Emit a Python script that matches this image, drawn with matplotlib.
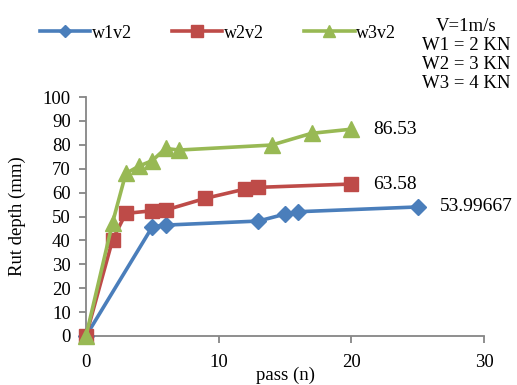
import matplotlib
matplotlib.use("Agg")
import matplotlib.pyplot as plt

plt.rcParams['font.family'] = ['Liberation Serif', 'DejaVu Serif']

x1 = [0, 5, 6, 13, 15, 16, 25]
y1 = [0, 45.7, 46.4, 48.1, 51.0, 52.0, 53.99667]
x2 = [0, 2, 3, 5, 6, 9, 12, 13, 20]
y2 = [0, 40.2, 51.3, 52.4, 52.7, 57.6, 61.5, 62.2, 63.58]
x3 = [0, 2, 3, 4, 5, 6, 7, 14, 17, 20]
y3 = [0, 47.4, 68.0, 71.1, 73.4, 78.5, 77.8, 79.9, 84.8, 86.53]
labels = ['w1v2', 'w2v2', 'w3v2']
end_labels = ['53.99667', '63.58', '86.53']
yticks = list(range(0, 101, 10))
xticks = [0, 10, 20, 30]

colors = ['#4a7ebb', '#be4b48', '#98b954']
spine_c = '#868686'

fig = plt.figure(figsize=(5.17, 3.85), dpi=100)
ax = fig.add_axes([86/517, 1-336/385, (484-86)/517, (336-97)/385])

l1, = ax.plot(x1, y1, color=colors[0], lw=2.6, marker='D', ms=8, clip_on=False, zorder=3)
l2, = ax.plot(x2, y2, color=colors[1], lw=2.6, marker='s', ms=10, clip_on=False, zorder=3)
l3, = ax.plot(x3, y3, color=colors[2], lw=2.6, marker='^', ms=11, clip_on=False, zorder=4)

for xs, ys, lab in [(x1, y1, end_labels[0]), (x2, y2, end_labels[1]), (x3, y3, end_labels[2])]:
    ax.annotate(lab, (xs[-1], ys[-1]), xytext=(16, 0), textcoords='offset points',
                va='center', ha='left', fontsize=14)

ax.set_xlim(0, 30)
ax.set_ylim(0, 100)
ax.set_xticks(xticks)
ax.set_yticks(yticks)
ax.tick_params(labelsize=13.5, color=spine_c, length=5, width=1.3)
ax.tick_params(axis='x', pad=8)
ax.tick_params(axis='y', pad=6)
for s in ['top', 'right']:
    ax.spines[s].set_visible(False)
for s in ['left', 'bottom']:
    ax.spines[s].set_color(spine_c)
    ax.spines[s].set_linewidth(1.3)
ax.set_xlabel('pass (n)', fontsize=13.5, va='bottom')
ax.xaxis.set_label_coords(0.5, (336-384)/239)
ax.set_ylabel('Rut depth (mm)', fontsize=13.5, va='center')
ax.yaxis.set_label_coords((17-86)/398, 0.5)

fig.legend([l1, l2, l3], labels, loc='center', bbox_to_anchor=(218/517, 1-33/385), ncol=3,
           frameon=False, fontsize=13, handlelength=2.8, columnspacing=2.2, handletextpad=0.1,
           markerscale=0.8)

fig.text(466/517, 1-55/385, 'V=1m/s\nW1 = 2 KN\nW2 = 3 KN\nW3 = 4 KN', ha='center', va='center',
         fontsize=13.5, linespacing=1.15)

fig.savefig('out.png', dpi=100)
